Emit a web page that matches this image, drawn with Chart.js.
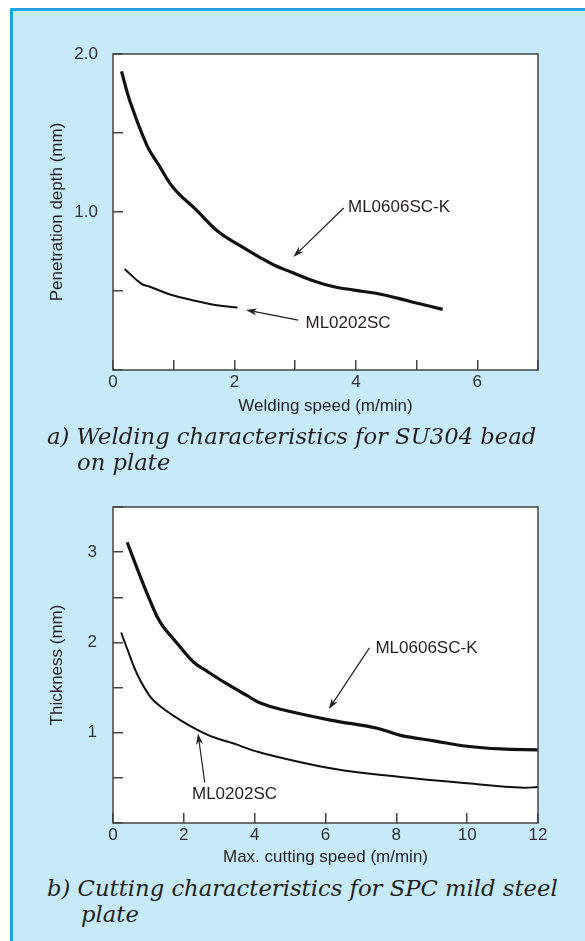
<!DOCTYPE html>
<html lang="en">
<head>
<meta charset="UTF-8">
<title>Welding and cutting characteristics</title>
<script src="https://cdn.jsdelivr.net/npm/chart.js"></script>
<style>
    html, body { margin: 0; padding: 0; background: #fff; }
    body { width: 585px; height: 941px; position: relative; overflow: hidden; }
    .panel {
        position: absolute; left: 10px; top: 8px; right: 0; bottom: 0;
        background: #c7eaf9;
        border-left: 3px solid #1ba3e5;
        border-top: 3px solid #1ba3e5;
    }
    canvas { position: absolute; left: 0; }
    #chartWeld { top: 0; }
    #chartCut { top: 470px; }
    .caption {
        position: absolute; left: 47px;
        font-family: "DejaVu Serif", serif; font-style: italic;
        font-size: 22.7px; line-height: 26px; color: #231f20;
        white-space: nowrap;
    }
    .caption span { display: block; }
</style>
</head>
<body>
<div class="panel"></div>
<canvas id="chartWeld" width="585" height="420"></canvas>
<canvas id="chartCut" width="585" height="400"></canvas>
<div class="caption" style="top: 423px;">a) Welding characteristics for SU304 bead<span style="margin-left: 30px;">on plate</span></div>
<div class="caption" style="top: 875px;">b) Cutting characteristics for SPC mild steel<span style="margin-left: 34px;">plate</span></div>

<script>
    // a) welding speed (m/min) vs penetration depth (mm)
    const weldSpeedK = [0.14, 0.28, 0.56, 0.75, 1.0, 1.38, 1.72, 2.1, 2.43, 2.65, 2.93, 3.26, 3.64, 3.97, 4.47, 4.91, 5.43];
    const weldDepthK = [1.89, 1.70, 1.42, 1.30, 1.15, 1.01, 0.88, 0.785, 0.71, 0.665, 0.62, 0.57, 0.527, 0.506, 0.475, 0.432, 0.384];
    const weldSpeedS = [0.19, 0.47, 0.61, 0.94, 1.33, 1.71, 2.05];
    const weldDepthS = [0.64, 0.545, 0.527, 0.478, 0.44, 0.41, 0.395];
    const weldXTicks = [0, 2, 4, 6];
    const weldYTicks = [1.0, 2.0];

    // b) max. cutting speed (m/min) vs thickness (mm)
    const cutSpeedK = [0.40, 0.72, 1.05, 1.34, 1.81, 2.28, 2.66, 3.22, 3.79, 4.16, 4.73, 6.14, 7.46, 8.12, 9.06, 10.0, 10.94, 12.0];
    const cutThickK = [3.11, 2.78, 2.46, 2.22, 1.99, 1.78, 1.68, 1.54, 1.41, 1.33, 1.26, 1.14, 1.05, 0.97, 0.91, 0.85, 0.82, 0.81];
    const cutSpeedS = [0.23, 0.40, 0.68, 1.05, 1.34, 1.9, 2.37, 2.84, 3.41, 4.16, 6.23, 8.12, 10.0, 11.6, 12.0];
    const cutThickS = [2.11, 1.93, 1.65, 1.40, 1.29, 1.14, 1.035, 0.95, 0.88, 0.78, 0.60, 0.51, 0.44, 0.39, 0.40];
    const cutXTicks = [0, 2, 4, 6, 8, 10, 12];
    const cutYTicks = [1, 2, 3];

    const toPoints = (xs, ys) => xs.map((x, i) => ({ x: x, y: ys[i] }));

    Chart.defaults.font.family = '"Liberation Sans", Arial, sans-serif';
    Chart.defaults.font.size = 17;
    Chart.defaults.color = '#333';

    // white plot area with a dark frame
    const framePlugin = {
        id: 'frame',
        beforeDraw(chart) {
            const { ctx, chartArea: a } = chart;
            ctx.save();
            ctx.fillStyle = '#fff';
            ctx.fillRect(a.left, a.top, a.right - a.left, a.bottom - a.top);
            ctx.restore();
        },
        afterDraw(chart) {
            const { ctx, chartArea: a } = chart;
            ctx.save();
            ctx.strokeStyle = '#444';
            ctx.lineWidth = 1.5;
            ctx.strokeRect(a.left, a.top, a.right - a.left, a.bottom - a.top);
            ctx.restore();
        }
    };

    // curve names with pointer arrows, placed in data units
    const notesPlugin = {
        id: 'notes',
        afterDatasetsDraw(chart, args, opts) {
            const { ctx } = chart;
            const sx = chart.scales.x, sy = chart.scales.y;
            ctx.save();
            (opts.items || []).forEach(n => {
                ctx.fillStyle = '#231f20';
                ctx.font = '17px "Liberation Sans", Arial, sans-serif';
                ctx.textAlign = 'left';
                ctx.textBaseline = 'middle';
                ctx.fillText(n.text, sx.getPixelForValue(n.tx), sy.getPixelForValue(n.ty));

                const x1 = sx.getPixelForValue(n.from[0]), y1 = sy.getPixelForValue(n.from[1]);
                const x2 = sx.getPixelForValue(n.to[0]), y2 = sy.getPixelForValue(n.to[1]);
                const ang = Math.atan2(y2 - y1, x2 - x1);
                const head = 11, half = 3.5;
                ctx.strokeStyle = '#231f20';
                ctx.lineWidth = 1.2;
                ctx.beginPath();
                ctx.moveTo(x1, y1);
                ctx.lineTo(x2 - Math.cos(ang) * head * 0.7, y2 - Math.sin(ang) * head * 0.7);
                ctx.stroke();
                ctx.beginPath();
                ctx.moveTo(x2, y2);
                ctx.lineTo(x2 - Math.cos(ang) * head - Math.sin(ang) * half, y2 - Math.sin(ang) * head + Math.cos(ang) * half);
                ctx.lineTo(x2 - Math.cos(ang) * head * 0.7, y2 - Math.sin(ang) * head * 0.7);
                ctx.lineTo(x2 - Math.cos(ang) * head + Math.sin(ang) * half, y2 - Math.sin(ang) * head - Math.cos(ang) * half);
                ctx.closePath();
                ctx.fill();
            });
            ctx.restore();
        }
    };

    function makeChart(id, cfg) {
        const tickGrid = { drawOnChartArea: false, drawTicks: true, tickLength: -10, color: '#444', lineWidth: 1.5 };
        return new Chart(document.getElementById(id), {
            type: 'line',
            data: {
                datasets: [
                    { data: cfg.thick, borderColor: '#111', borderWidth: 3.2, pointRadius: 0, tension: 0.4, fill: false },
                    { data: cfg.thin, borderColor: '#111', borderWidth: 2, pointRadius: 0, tension: 0.4, fill: false }
                ]
            },
            options: {
                responsive: false,
                animation: false,
                layout: { padding: cfg.padding },
                plugins: {
                    legend: { display: false },
                    tooltip: { enabled: false },
                    notes: { items: cfg.notes }
                },
                scales: {
                    x: {
                        type: 'linear',
                        min: 0, max: cfg.xMax,
                        border: { display: false },
                        grid: tickGrid,
                        ticks: {
                            stepSize: cfg.xStep, padding: 12, maxRotation: 0,
                            callback: v => cfg.xLabels.includes(v) ? String(v) : ''
                        },
                        title: { display: true, text: cfg.xTitle, color: '#231f20', padding: { top: 0, bottom: cfg.xTitlePad } },
                        afterFit: s => { s.height = cfg.xHeight; }
                    },
                    y: {
                        min: 0, max: cfg.yMax,
                        border: { display: false },
                        grid: tickGrid,
                        ticks: {
                            stepSize: 0.5, padding: cfg.yTickPad,
                            callback: v => cfg.yLabels.includes(v) ? cfg.yFormat(v) : ''
                        },
                        title: { display: true, text: cfg.yTitle, color: '#231f20', padding: { top: 47, bottom: 0 } },
                        afterFit: s => { s.width = 113; }
                    }
                }
            },
            plugins: [framePlugin, notesPlugin]
        });
    }

    makeChart('chartWeld', {
        thick: toPoints(weldSpeedK, weldDepthK),
        thin: toPoints(weldSpeedS, weldDepthS),
        xMax: 7, xStep: 1, xLabels: weldXTicks,
        yMax: 2, yLabels: weldYTicks, yFormat: v => v.toFixed(1),
        xTitle: 'Welding speed (m/min)', yTitle: 'Penetration depth (mm)',
        padding: { top: 54, right: 47, left: 0, bottom: 0 },
        xHeight: 50, xTitlePad: 3.5, yTickPad: 25,
        notes: [
            { text: 'ML0606SC-K', tx: 3.87, ty: 1.03, from: [3.80, 1.025], to: [2.97, 0.715] },
            { text: 'ML0202SC', tx: 3.17, ty: 0.297, from: [3.05, 0.316], to: [2.19, 0.38] }
        ]
    });

    makeChart('chartCut', {
        thick: toPoints(cutSpeedK, cutThickK),
        thin: toPoints(cutSpeedS, cutThickS),
        xMax: 12, xStep: 2, xLabels: cutXTicks,
        yMax: 3.5, yLabels: cutYTicks, yFormat: v => String(v),
        xTitle: 'Max. cutting speed (m/min)', yTitle: 'Thickness (mm)',
        padding: { top: 37, right: 47, left: 0, bottom: 0 },
        xHeight: 47, xTitlePad: 2, yTickPad: 26,
        notes: [
            { text: 'ML0606SC-K', tx: 7.41, ty: 1.935, from: [7.24, 1.94], to: [6.09, 1.26] },
            { text: 'ML0202SC', tx: 2.23, ty: 0.32, from: [2.59, 0.45], to: [2.40, 0.99] }
        ]
    });
</script>
</body>
</html>
